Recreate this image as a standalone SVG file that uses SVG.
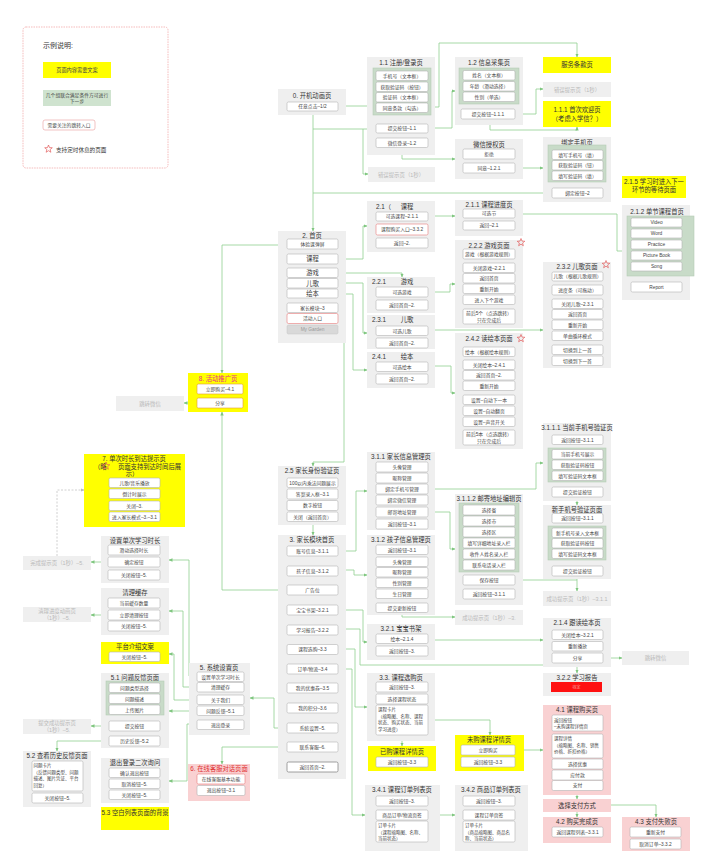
<svg xmlns="http://www.w3.org/2000/svg" width="711" height="865" viewBox="0 0 711 865">
<defs>
<style>
text{font-family:"Liberation Sans","Noto Sans CJK SC",sans-serif;}
.n{fill:#efefef}
.b{fill:#fff;stroke:#b4b4b4;stroke-width:0.6}
.g{fill:#c8dbc8;stroke:#b5ccb5;stroke-width:0.6}
.y{fill:#ffff00}
.p{fill:#f9d1d2}
.t{font-size:6.3px;fill:#333;text-anchor:middle}
.s{font-size:4.8px;fill:#444;text-anchor:middle}
.l{font-size:4.5px;fill:#444}
.gt{font-size:5.4px;fill:#b9b9b9;text-anchor:middle}
.c{fill:none;stroke:#8fcf8f;stroke-width:0.8;marker-end:url(#a)}
.c0{fill:none;stroke:#8fcf8f;stroke-width:0.8}
</style>
<marker id="a" markerWidth="4" markerHeight="4" refX="3.5" refY="2" orient="auto" markerUnits="userSpaceOnUse"><path d="M0,0.3 L4,2 L0,3.7 z" fill="#7fc67f"/></marker>
<marker id="ag" markerWidth="4" markerHeight="4" refX="3.5" refY="2" orient="auto" markerUnits="userSpaceOnUse"><path d="M0,0.3 L4,2 L0,3.7 z" fill="#bbb"/></marker>
<path id="star" d="M0,-4 L1,-1.38 L3.8,-1.24 L1.62,0.53 L2.35,3.24 L0,1.7 L-2.35,3.24 L-1.62,0.53 L-3.8,-1.24 L-1,-1.38 Z" fill="none" stroke="#e25a5a" stroke-width="0.7"/>
</defs>
<rect width="711" height="865" fill="#fff"/>

<g id="legend">
<rect x="23" y="27" width="145" height="141" rx="3" fill="#fff" stroke="#f2aaaa" stroke-width="0.8" stroke-dasharray="1.5 1"/>
<text x="43" y="48" style="font-size:7px;fill:#333">示例说明:</text>
<rect class="y" x="43" y="62" width="68" height="16"/>
<text class="s" x="77" y="72" style="font-size:5.2px">页面内容需要文案</text>
<rect x="43" y="90" width="68" height="16" fill="#cfe3cf"/>
<text class="s" x="77" y="96.5">几个组联合满足条件方可进行</text>
<text class="s" x="77" y="103">下一步</text>
<rect class="b" x="43" y="120" width="52" height="10" rx="2" style="stroke:#e89a9a"/>
<text class="s" x="69" y="126.8">需要关注的跳转入口</text>
<use href="#star" x="48.5" y="149"/>
<text x="56" y="152" style="font-size:5.6px;fill:#333">支持定时休息的页面</text>
</g>

<g id="connectors">
<polyline class="c" points="338,106 373,106"/>
<polyline class="c" points="313,111 313,231"/>
<polyline class="c0" points="313,129 376,129"/>
<polyline class="c" points="363,129 363,174 368,174"/>
<polyline class="c0" points="313,193 552,193"/>
<polyline class="c" points="428,107 439,107 439,43 577,43 577,57"/>
<polyline class="c" points="428,128 452,128 452,91 455,91"/>
<polyline class="c" points="402,148 402,159 455,159"/>
<polyline class="c" points="515,114 536,114 536,89 543,89"/>
<polyline class="c" points="490,119 490,130 577,130 577,127"/>
<polyline class="c" points="515,168 543,168"/>
<polyline class="c" points="577,182 577,188"/>
<polyline class="c" points="402,115 402,124"/>
<polyline class="c" points="287,245 222,245 222,373"/>
<polyline class="c" points="287,590 222,590 222,412"/>
<polyline class="c" points="338,259 363,259 363,226 367,226"/>
<polyline class="c" points="338,273 402,273 402,277"/>
<polyline class="c" points="338,283 363,283 363,333 367,333"/>
<polyline class="c" points="338,294 353,294 353,370 367,370"/>
<polyline class="c" points="338,308 344,308 344,462 313,462 313,466"/>
<polyline class="c" points="313,525 313,535"/>
<polyline class="c" points="428,216 455,216"/>
<polyline class="c" points="515,214 617,214 617,251 627,251"/>
<polyline class="c" points="657,276 657,282"/>
<polyline class="c" points="428,292 450,292 450,284 455,284"/>
<polyline class="c" points="428,330 543,330"/>
<polyline class="c" points="428,366 451,366 451,393 455,393"/>
<polyline class="c" points="338,551 356,551 356,491 367,491"/>
<polyline class="c" points="338,570 354,570 354,575 367,575"/>
<polyline class="c" points="338,610 363,610 363,642 367,642"/>
<polyline class="c" points="338,629 360,629 360,665 577,665 577,673"/>
<polyline class="c" points="338,649 355,649 355,707 367,707"/>
<polyline class="c" points="338,669 352,669 352,815 365,815"/>
<polyline class="c0" points="345,689 345,779"/>
<polyline class="c" points="287,728 274,728 274,698 250,698"/>
<polyline class="c" points="287,747 222,747 222,764"/>
<polyline class="c" points="197,676 189,676 189,560 169,560"/>
<polyline class="c" points="197,687 183,687 183,611 169,611"/>
<polyline class="c" points="197,700 174,700 174,654 169,654"/>
<polyline class="c" points="197,711 169,711"/>
<polyline class="c" points="197,724 187,724 187,781 169,781"/>
<polyline class="c" points="135,715 135,721"/>
<polyline class="c" points="109,726 91,726"/>
<polyline class="c" points="109,741 57,741 57,751"/>
<polyline class="c" points="108,562 91,562"/>
<polyline class="c" points="108,615 91,615"/>
<polyline points="57,556 57,490 84,490" fill="none" stroke="#c4c4c4" stroke-width="0.8" stroke-dasharray="2 1.5" marker-end="url(#ag)"/>
<polyline class="c" points="197,403 184,403"/>
<polyline class="c" points="428,489 536,489 536,463 543,463"/>
<polyline class="c" points="428,512 450,512 450,549 455,549"/>
<polyline class="c" points="402,612 402,617 455,617"/>
<polyline class="c" points="490,571 490,575"/>
<polyline class="c0" points="515,580 577,580"/>
<polyline class="c" points="577,576 577,591"/>
<polyline class="c" points="577,481 577,487"/>
<polyline class="c" points="577,497 577,505"/>
<polyline class="c" points="577,560 577,566"/>
<polyline class="c" points="428,640 543,640"/>
<polyline class="c" points="603,658 622,658"/>
<polyline class="c" points="428,720 490,720 490,735"/>
<polyline class="c" points="402,735 402,746"/>
<polyline class="c" points="515,750 543,750"/>
<polyline class="c" points="577,795 577,799"/>
<polyline class="c" points="577,812 577,817"/>
<polyline class="c" points="611,805 656,805 656,817"/>
<polyline class="c" points="428,815 455,815"/>
</g>

<g id="n0"><rect class="n" x="278" y="89" width="68" height="26"/><text class="t" x="312" y="97.5">0. 开机动画页</text>
<rect class="b" x="287" y="102" width="51" height="9" rx="1.5"/><text class="s" x="312.5" y="108.3">任意点击–1/2</text></g>

<g id="n1_1"><rect class="n" x="367" y="57" width="68" height="98"/><text class="t" x="401" y="65">1.1 注册/登录页</text>
<rect class="g" x="373" y="68" width="58" height="47"/>
<rect class="b" x="376" y="71" width="52" height="9.5" rx="1.5"/><text class="s" x="402" y="77.5">手机号（文本框）</text>
<rect class="b" x="376" y="82" width="52" height="9.5" rx="1.5"/><text class="s" x="402" y="88.5">获取验证码（按钮）</text>
<rect class="b" x="376" y="92.5" width="52" height="9.5" rx="1.5"/><text class="s" x="402" y="99">验证码（文本框）</text>
<rect class="b" x="376" y="103" width="52" height="9.5" rx="1.5"/><text class="s" x="402" y="109.5">同意条款（勾选）</text>
<rect class="b" x="376" y="124" width="52" height="9" rx="1.5"/><text class="s" x="402" y="130.3">提交按钮–1.1</text>
<rect class="b" x="376" y="138" width="52" height="9.5" rx="1.5"/><text class="s" x="402" y="144.5">微信登录–1.2</text></g>

<g id="err1"><rect class="n" x="368" y="167" width="67" height="15"/><text class="gt" x="401" y="176.5">错误提示页（1秒）</text></g>

<g id="n1_2"><rect class="n" x="455" y="57" width="68" height="68"/><text class="t" x="489" y="65">1.2 信息采集页</text>
<rect class="g" x="459" y="68" width="60" height="36"/>
<rect class="b" x="463" y="70.5" width="52" height="9.5" rx="1.5"/><text class="s" x="489" y="77">姓名（文本框）</text>
<rect class="b" x="463" y="81.5" width="52" height="9.5" rx="1.5"/><text class="s" x="489" y="88">年龄（滑动选择）</text>
<rect class="b" x="463" y="92" width="52" height="9.5" rx="1.5"/><text class="s" x="489" y="98.5">性别（单选）</text>
<rect class="b" x="461" y="109" width="54" height="10" rx="1.5"/><text class="s" x="488" y="115.8">提交按钮–1.1.1</text></g>

<g id="terms"><rect class="y" x="543" y="57" width="68" height="16"/><text class="t" x="577" y="67.2">服务条款页</text></g>
<g id="err2"><rect class="n" x="543" y="82" width="68" height="15"/><text class="gt" x="577" y="91.5">错误提示页（1秒）</text></g>
<g id="n1_1_1"><rect class="y" x="543" y="101" width="68" height="26"/><text class="t" x="577" y="112">1.1.1 首次欢迎页</text><text class="t" x="577" y="120.5">（考虑入学信？）</text></g>

<g id="wxauth"><rect class="n" x="455" y="139" width="68" height="40"/><text class="t" x="489" y="146.5">微信授权页</text>
<rect class="b" x="463" y="149" width="52" height="10" rx="1.5"/><text class="s" x="489" y="155.8">拒绝</text>
<rect class="b" x="463" y="163" width="52" height="10" rx="1.5"/><text class="s" x="489" y="169.8">同意–1.2.1</text></g>

<g id="bindphone"><rect class="n" x="543" y="137" width="68" height="65"/><text class="t" x="577" y="144.5">绑定手机页</text>
<rect class="g" x="548" y="145" width="58" height="37"/>
<rect class="b" x="552" y="150" width="51" height="9.5" rx="1.5"/><text class="s" x="577.5" y="156.5">填写手机号（填）</text>
<rect class="b" x="552" y="160.5" width="51" height="9.5" rx="1.5"/><text class="s" x="577.5" y="167">获取验证码（钮）</text>
<rect class="b" x="552" y="171" width="51" height="9.5" rx="1.5"/><text class="s" x="577.5" y="177.5">填写验证码（填）</text>
<rect class="b" x="552" y="188" width="51" height="10" rx="1.5"/><text class="s" x="577.5" y="194.8">绑定按钮–2</text></g>

<g id="n2_1_5"><rect class="y" x="622" y="176" width="64" height="22"/><text class="t" x="654" y="184">2.1.5 学习时进入下一</text><text class="t" x="654" y="192">环节的等待页面</text></g>

<g id="n2_1_2"><rect class="n" x="622" y="205" width="68" height="95"/><text class="t" x="657" y="213.5">2.1.2 单节课程首页</text>
<rect class="g" x="627" y="216" width="67" height="60"/>
<rect class="b" x="631" y="218" width="51" height="9" rx="1.5"/><text class="s" x="656.5" y="224.3">Video</text>
<rect class="b" x="631" y="229" width="51" height="9" rx="1.5"/><text class="s" x="656.5" y="235.3">Word</text>
<rect class="b" x="631" y="240" width="51" height="9" rx="1.5"/><text class="s" x="656.5" y="246.3">Practice</text>
<rect class="b" x="631" y="251" width="51" height="9" rx="1.5"/><text class="s" x="656.5" y="257.3">Picture Book</text>
<rect class="b" x="631" y="262" width="51" height="9" rx="1.5"/><text class="s" x="656.5" y="268.3">Song</text>
<rect class="b" x="631" y="282" width="51" height="10" rx="1.5"/><text class="s" x="656.5" y="288.8">Report</text></g>

<g id="n2"><rect class="n" x="278" y="231" width="68" height="112"/><text class="t" x="312" y="237.5">2. 首页</text>
<rect class="b" x="287" y="239" width="51" height="10" rx="1.5"/><text class="s" x="312.5" y="245.8">体验课弹屏</text>
<rect class="b" x="287" y="254" width="51" height="10" rx="1.5"/><text class="t" x="312.5" y="261.3">课程</text>
<rect class="b" x="287" y="268" width="51" height="9.5" rx="1.5"/><text class="t" x="312.5" y="275">游戏</text>
<rect class="b" x="287" y="278.5" width="51" height="9.5" rx="1.5"/><text class="t" x="312.5" y="285.5">儿歌</text>
<rect class="b" x="287" y="289" width="51" height="9" rx="1.5"/><text class="t" x="312.5" y="295.8">绘本</text>
<rect class="b" x="287" y="303" width="51" height="9.5" rx="1.5"/><text class="s" x="312.5" y="309.5">家长模块–3</text>
<rect class="b" x="287" y="313.5" width="51" height="10" rx="1.5" style="stroke:#e77a7a"/><text class="s" x="312.5" y="320.3">活动入口</text>
<rect x="287" y="325" width="51" height="9" rx="1.5" fill="#d9d9d9" stroke="#c4c4c4" stroke-width="0.5"/><text class="s" x="312.5" y="331.3" style="fill:#999">My Garden</text></g>

<g id="n2_1"><rect class="n" x="367" y="201" width="68" height="51"/><text x="376" y="208.5" style="font-size:6.3px;fill:#333">2.1（</text><text class="t" x="407" y="208.5">课程</text>
<rect class="b" x="376" y="212" width="52" height="9" rx="1.5"/><text class="s" x="402" y="218.3">可选课程–2.1.1</text>
<rect class="b" x="376" y="224" width="52" height="11" rx="1.5" style="stroke:#e77a7a"/><text class="s" x="402" y="231.3">课程购买入口–3.3.2</text>
<rect class="b" x="376" y="238" width="52" height="10" rx="1.5"/><text class="s" x="402" y="244.8">返回–2.</text></g>

<g id="n2_1_1"><rect class="n" x="455" y="200" width="68" height="36"/><text class="t" x="489" y="206.5">2.1.1 课程进度页</text>
<rect class="b" x="463" y="209" width="52" height="9" rx="1.5"/><text class="s" x="489" y="215.3">可选节</text>
<rect class="b" x="463" y="221" width="52" height="9" rx="1.5"/><text class="s" x="489" y="227.3">返回–2.1</text></g>

<g id="n2_2_2"><rect class="n" x="455" y="240" width="68" height="88"/><text class="t" x="489" y="247.5">2.2.2 游戏页面</text><use href="#star" x="521" y="242.5"/>
<rect class="b" x="463" y="249" width="52" height="10" rx="1.5"/><text class="s" x="489" y="255.8">游戏（根据游戏规则）</text>
<rect class="b" x="463" y="263" width="52" height="9.5" rx="1.5"/><text class="s" x="489" y="269.5">关闭游戏–2.2.1</text>
<rect class="b" x="463" y="273.5" width="52" height="9.5" rx="1.5"/><text class="s" x="489" y="280">返回首页</text>
<rect class="b" x="463" y="284" width="52" height="9.5" rx="1.5"/><text class="s" x="489" y="290.5">重新开始</text>
<rect class="b" x="463" y="295" width="52" height="9.5" rx="1.5"/><text class="s" x="489" y="301.5">进入下个游戏</text>
<rect class="b" x="463" y="309" width="52" height="15" rx="1.5"/><text class="s" x="489" y="315">前后5个（点选跳转）</text><text class="s" x="489" y="321.5">只在完成后</text></g>

<g id="n2_2_1"><rect class="n" x="367" y="277" width="68" height="36"/><text x="372" y="284" style="font-size:6.3px;fill:#333">2.2.1</text><text class="t" x="407" y="284">游戏</text>
<rect class="b" x="376" y="287" width="52" height="10" rx="1.5"/><text class="s" x="402" y="293.8">可选游戏</text>
<rect class="b" x="376" y="300" width="52" height="10" rx="1.5"/><text class="s" x="402" y="306.8">返回首页–2.</text></g>

<g id="n2_3_1"><rect class="n" x="367" y="315" width="68" height="34"/><text x="372" y="321.5" style="font-size:6.3px;fill:#333">2.3.1</text><text class="t" x="407" y="321.5">儿歌</text>
<rect class="b" x="376" y="326" width="52" height="9.5" rx="1.5"/><text class="s" x="402" y="332.5">可选儿歌</text>
<rect class="b" x="376" y="338" width="52" height="10" rx="1.5"/><text class="s" x="402" y="344.8">返回首页–2.</text></g>

<g id="n2_4_1"><rect class="n" x="367" y="352" width="68" height="36"/><text x="372" y="359" style="font-size:6.3px;fill:#333">2.4.1</text><text class="t" x="407" y="359">绘本</text>
<rect class="b" x="376" y="362" width="52" height="9.5" rx="1.5"/><text class="s" x="402" y="368.5">可选绘本</text>
<rect class="b" x="376" y="374" width="52" height="10" rx="1.5"/><text class="s" x="402" y="380.8">返回首页–2.</text></g>

<g id="n2_3_2"><rect class="n" x="543" y="262" width="68" height="106"/><text class="t" x="577" y="268.8">2.3.2 儿歌页面</text><use href="#star" x="606" y="264.5"/>
<rect class="b" x="552" y="272" width="51" height="9" rx="1.5"/><text class="s" x="577.5" y="278.3">儿歌（根据儿歌规则）</text>
<rect class="b" x="552" y="285" width="51" height="10" rx="1.5"/><text class="s" x="577.5" y="291.8">进度条（可拖动）</text>
<rect class="b" x="552" y="299" width="51" height="9.5" rx="1.5"/><text class="s" x="577.5" y="305.5">关闭儿歌–2.3.1</text>
<rect class="b" x="552" y="309.5" width="51" height="9.5" rx="1.5"/><text class="s" x="577.5" y="316">返回首页</text>
<rect class="b" x="552" y="320" width="51" height="9.5" rx="1.5"/><text class="s" x="577.5" y="326.5">重新开始</text>
<rect class="b" x="552" y="331" width="51" height="9.5" rx="1.5"/><text class="s" x="577.5" y="337.5">单曲循环模式</text>
<rect class="b" x="552" y="345" width="51" height="9.5" rx="1.5"/><text class="s" x="577.5" y="351.5">切换到上一首</text>
<rect class="b" x="552" y="356" width="51" height="9.5" rx="1.5"/><text class="s" x="577.5" y="362.5">切换到下一首</text></g>

<g id="n2_4_2"><rect class="n" x="455" y="333" width="68" height="116"/><text class="t" x="489" y="341">2.4.2 读绘本页面</text><use href="#star" x="521" y="338.5"/>
<rect class="b" x="463" y="347" width="52" height="9.5" rx="1.5"/><text class="s" x="489" y="353.5">绘本（根据绘本规则）</text>
<rect class="b" x="463" y="360" width="52" height="9.5" rx="1.5"/><text class="s" x="489" y="366.5">关闭绘本–2.4.1</text>
<rect class="b" x="463" y="370.5" width="52" height="9.5" rx="1.5"/><text class="s" x="489" y="377">返回首页–2.</text>
<rect class="b" x="463" y="381" width="52" height="9.5" rx="1.5"/><text class="s" x="489" y="387.5">重新开始</text>
<rect class="b" x="463" y="395" width="52" height="9.5" rx="1.5"/><text class="s" x="489" y="401.5">设置–自动下一本</text>
<rect class="b" x="463" y="406" width="52" height="9.5" rx="1.5"/><text class="s" x="489" y="412.5">设置–自动翻页</text>
<rect class="b" x="463" y="417" width="52" height="9.5" rx="1.5"/><text class="s" x="489" y="423.5">设置–声音开关</text>
<rect class="b" x="463" y="430" width="52" height="15" rx="1.5"/><text class="s" x="489" y="436">前后5本（点选跳转）</text><text class="s" x="489" y="442.5">只在完成后</text></g>

<g id="n8"><rect class="y" x="188" y="373" width="60" height="39"/><text class="t" x="218" y="380.8" style="fill:#e8308c">8. 活动推广页</text>
<rect class="b" x="197" y="384" width="46" height="10" rx="1.5" style="stroke:#e09a3a"/><text class="s" x="220" y="390.8">立即购买–4.1</text>
<rect class="b" x="197" y="398" width="46" height="10" rx="1.5" style="stroke:#e09a3a"/><text class="s" x="220" y="404.8">分享</text></g>
<g id="wx1"><rect class="n" x="116" y="396" width="68" height="15"/><text class="gt" x="150" y="405.5">跳转微信</text></g>

<g id="n2_5"><rect class="n" x="278" y="466" width="68" height="59"/><text class="t" x="312" y="473">2.5 家长身份验证页</text>
<rect class="b" x="287" y="478" width="51" height="9.5" rx="1.5"/><text class="s" x="312.5" y="484.5">100以内乘法问题展示</text>
<rect class="b" x="287" y="489" width="51" height="10" rx="1.5"/><text class="s" x="312.5" y="495.8">答案录入框–3.1</text>
<rect class="b" x="287" y="500.5" width="51" height="10" rx="1.5"/><text class="s" x="312.5" y="507.3">数字按钮</text>
<rect class="b" x="287" y="512" width="51" height="9.5" rx="1.5"/><text class="s" x="312.5" y="518.5">关闭（返回首页）</text></g>

<g id="n3"><rect class="n" x="278" y="535" width="68" height="244"/><text class="t" x="312" y="542">3. 家长模块首页</text>
<rect class="b" x="287" y="546" width="51" height="10" rx="1.5"/><text class="s" x="312.5" y="552.8">账号信息–3.1.1</text>
<rect class="b" x="287" y="566" width="51" height="10" rx="1.5"/><text class="s" x="312.5" y="572.8">孩子信息–3.1.2</text>
<rect class="b" x="287" y="585" width="51" height="10" rx="1.5"/><text class="s" x="312.5" y="591.8">广告位</text>
<rect class="b" x="287" y="605" width="51" height="10" rx="1.5"/><text class="s" x="312.5" y="611.8">宝宝书架–3.2.1</text>
<rect class="b" x="287" y="625" width="51" height="10" rx="1.5"/><text class="s" x="312.5" y="631.8">学习报告–3.2.2</text>
<rect class="b" x="287" y="644.5" width="51" height="10" rx="1.5"/><text class="s" x="312.5" y="651.3">课程选购–3.3</text>
<rect class="b" x="287" y="664" width="51" height="10" rx="1.5"/><text class="s" x="312.5" y="670.8">订单/物流–3.4</text>
<rect class="b" x="287" y="683" width="51" height="10" rx="1.5"/><text class="s" x="312.5" y="689.8">我的优惠券–3.5</text>
<rect class="b" x="287" y="703" width="51" height="10" rx="1.5"/><text class="s" x="312.5" y="709.8">我的积分–3.6</text>
<rect class="b" x="287" y="723" width="51" height="10" rx="1.5"/><text class="s" x="312.5" y="729.8">系统设置–5.</text>
<rect class="b" x="287" y="742" width="51" height="10" rx="1.5"/><text class="s" x="312.5" y="748.8">联系客服–6.</text>
<rect class="b" x="287" y="762" width="51" height="10" rx="1.5" style="stroke:#888;stroke-width:0.8"/><text class="s" x="312.5" y="768.8">返回首页–2.</text></g>

<g id="n3_1_1"><rect class="n" x="367" y="452" width="68" height="78"/><text class="t" x="401" y="458.5">3.1.1 家长信息管理页</text>
<rect class="b" x="376" y="462" width="52" height="10" rx="1.5"/><text class="s" x="402" y="468.8">头像管理</text>
<rect class="b" x="376" y="473" width="52" height="10" rx="1.5"/><text class="s" x="402" y="479.8">昵称管理</text>
<rect class="b" x="376" y="484" width="52" height="10" rx="1.5"/><text class="s" x="402" y="490.8">绑定手机号管理</text>
<rect class="b" x="376" y="495" width="52" height="10" rx="1.5"/><text class="s" x="402" y="501.8">绑定微信管理</text>
<rect class="b" x="376" y="507" width="52" height="10" rx="1.5"/><text class="s" x="402" y="513.8">邮寄地址管理</text>
<rect class="b" x="376" y="519" width="52" height="10" rx="1.5"/><text class="s" x="402" y="525.8">返回按钮–3.1</text></g>

<g id="n3_1_2"><rect class="n" x="367" y="535" width="68" height="80"/><text class="t" x="401" y="542">3.1.2 孩子信息管理页</text>
<rect class="b" x="376" y="545" width="52" height="9.5" rx="1.5"/><text class="s" x="402" y="551.5">返回按钮–3.1</text>
<rect class="b" x="376" y="557" width="52" height="9.5" rx="1.5"/><text class="s" x="402" y="563.5">头像管理</text>
<rect class="b" x="376" y="567.5" width="52" height="9.5" rx="1.5"/><text class="s" x="402" y="574">昵称管理</text>
<rect class="b" x="376" y="578" width="52" height="9.5" rx="1.5"/><text class="s" x="402" y="584.5">性别管理</text>
<rect class="b" x="376" y="589" width="52" height="9.5" rx="1.5"/><text class="s" x="402" y="595.5">生日管理</text>
<rect class="b" x="376" y="603" width="52" height="9.5" rx="1.5"/><text class="s" x="402" y="609.5">提交更新按钮</text></g>

<g id="ok3"><rect class="n" x="455" y="610" width="68" height="15"/><text class="gt" x="489" y="619.5">成功提示页（1秒）–3.</text></g>

<g id="n3_1_1_2"><rect class="n" x="455" y="494" width="68" height="111"/><text class="t" x="489" y="501">3.1.1.2 邮寄地址编辑页</text>
<rect class="g" x="459" y="503" width="60" height="69"/>
<rect class="b" x="463" y="505" width="52" height="10" rx="1.5"/><text class="s" x="489" y="511.8">选择省</text>
<rect class="b" x="463" y="516" width="52" height="10" rx="1.5"/><text class="s" x="489" y="522.8">选择市</text>
<rect class="b" x="463" y="527" width="52" height="10" rx="1.5"/><text class="s" x="489" y="533.8">选择区</text>
<rect class="b" x="463" y="538" width="52" height="10" rx="1.5"/><text class="s" x="489" y="544.8">填写详细地址录入栏</text>
<rect class="b" x="463" y="549" width="52" height="10" rx="1.5"/><text class="s" x="489" y="555.8">收件人姓名录入栏</text>
<rect class="b" x="463" y="560" width="52" height="10" rx="1.5"/><text class="s" x="489" y="566.8">联系电话录入栏</text>
<rect class="b" x="463" y="575" width="52" height="10" rx="1.5"/><text class="s" x="489" y="581.8">保存按钮</text>
<rect class="b" x="463" y="589" width="52" height="10" rx="1.5"/><text class="s" x="489" y="595.8">返回按钮–3.1.1</text></g>

<g id="n3_1_1_1"><rect class="n" x="543" y="423" width="68" height="78"/><text class="t" x="577" y="430">3.1.1.1 当前手机号验证页</text>
<rect class="b" x="552" y="435" width="51" height="9.5" rx="1.5"/><text class="s" x="577.5" y="441.5">返回按钮–3.1.1</text>
<rect class="g" x="548" y="448" width="58" height="34"/>
<rect class="b" x="552" y="449.5" width="51" height="9.5" rx="1.5"/><text class="s" x="577.5" y="456">当前手机号展示</text>
<rect class="b" x="552" y="460" width="51" height="9.5" rx="1.5"/><text class="s" x="577.5" y="466.5">获取验证码按钮</text>
<rect class="b" x="552" y="471" width="51" height="9.5" rx="1.5"/><text class="s" x="577.5" y="477.5">填写验证码文本框</text>
<rect class="b" x="552" y="487" width="51" height="10" rx="1.5"/><text class="s" x="577.5" y="493.8">提交验证按钮</text></g>

<g id="newphone"><rect class="n" x="543" y="505" width="68" height="74"/><text class="t" x="577" y="512">新手机号验证页面</text>
<rect class="b" x="552" y="513.5" width="51" height="9.5" rx="1.5"/><text class="s" x="577.5" y="520">返回按钮–3.1.1</text>
<rect class="g" x="548" y="526" width="58" height="34"/>
<rect class="b" x="552" y="528" width="51" height="9.5" rx="1.5"/><text class="s" x="577.5" y="534.5">新手机号录入文本框</text>
<rect class="b" x="552" y="538.5" width="51" height="9.5" rx="1.5"/><text class="s" x="577.5" y="545">获取验证码按钮</text>
<rect class="b" x="552" y="549" width="51" height="9.5" rx="1.5"/><text class="s" x="577.5" y="555.5">填写验证码文本框</text>
<rect class="b" x="552" y="566" width="51" height="10" rx="1.5"/><text class="s" x="577.5" y="572.8">提交验证按钮</text></g>

<g id="ok311"><rect class="n" x="543" y="591" width="68" height="15"/><text class="gt" x="577" y="600.5">成功提示页（1秒）–3.1.1</text></g>

<g id="n3_2_1"><rect class="n" x="367" y="624" width="68" height="36"/><text class="t" x="401" y="630.8">3.2.1 宝宝书架</text>
<rect class="b" x="376" y="634" width="52" height="9.5" rx="1.5"/><text class="s" x="402" y="640.5">绘本–2.1.4</text>
<rect class="b" x="376" y="646" width="52" height="10" rx="1.5"/><text class="s" x="402" y="652.8">返回按钮–3.</text></g>

<g id="n2_1_4"><rect class="n" x="543" y="618" width="68" height="49"/><text class="t" x="577" y="625">2.1.4 跟读绘本页</text>
<rect class="b" x="552" y="630" width="51" height="9.5" rx="1.5"/><text class="s" x="577.5" y="636.5">关闭绘本–3.2.1</text>
<rect class="b" x="552" y="641.5" width="51" height="9.5" rx="1.5"/><text class="s" x="577.5" y="648">重新播放</text>
<rect class="b" x="552" y="653" width="51" height="10" rx="1.5"/><text class="s" x="577.5" y="659.8">分享</text></g>
<g id="wx2"><rect class="n" x="622" y="651" width="67" height="14"/><text class="gt" x="655.5" y="660">跳转微信</text></g>

<g id="n3_2_2"><rect class="n" x="543" y="673" width="68" height="23"/><text class="t" x="577" y="679.8">3.2.2 学习报告</text>
<rect x="551" y="682" width="51" height="10" fill="#ff1010"/><text class="s" x="576.5" y="688.8" style="fill:#f6b0b0;font-size:4px">待定</text></g>

<g id="n4_1"><rect class="p" x="543" y="705" width="68" height="90"/><text class="t" x="577" y="712">4.1 课程购买页</text>
<rect class="b" x="552" y="715" width="51" height="16" rx="1.5"/><text class="l" x="554" y="721.5">返回按钮</text><text class="l" x="554" y="728.3">–未购课程详情页</text>
<rect class="b" x="552" y="734" width="51" height="24" rx="1.5"/><text class="l" x="554" y="740">课程详情</text><text class="l" x="554" y="746.5">（缩略图、名称、销售</text><text class="l" x="554" y="753">价格、折扣价格）</text>
<rect class="b" x="552" y="759" width="51" height="10" rx="1.5"/><text class="s" x="577.5" y="765.8">选择优惠</text>
<rect class="b" x="552" y="770" width="51" height="10" rx="1.5"/><text class="s" x="577.5" y="776.8">应付款</text>
<rect class="b" x="552" y="780.5" width="51" height="10" rx="1.5"/><text class="s" x="577.5" y="787.3">支付</text></g>

<g id="paymethod"><rect class="p" x="543" y="799" width="68" height="13"/><text class="t" x="577" y="807.8">选择支付方式</text></g>

<g id="n4_2"><rect class="p" x="543" y="817" width="68" height="26"/><text class="t" x="577" y="823.8">4.2 购买完成页</text>
<rect class="b" x="552" y="827" width="51" height="10" rx="1.5"/><text class="s" x="577.5" y="833.8">返回课程列表–3.3.1</text></g>

<g id="n4_3"><rect class="p" x="622" y="817" width="68" height="34"/><text class="t" x="656" y="823.8">4.3 支付失败页</text>
<rect class="b" x="630" y="827" width="51" height="10" rx="1.5"/><text class="s" x="655.5" y="833.8">重新支付</text>
<rect class="b" x="630" y="839" width="51" height="10" rx="1.5"/><text class="s" x="655.5" y="845.8">取消订单–3.3.2</text></g>

<g id="n3_3"><rect class="n" x="367" y="673" width="68" height="68"/><text class="t" x="401" y="679.8">3.3. 课程选购页</text>
<rect class="b" x="376" y="682" width="52" height="10" rx="1.5"/><text class="s" x="402" y="688.8">返回按钮–3.</text>
<rect class="b" x="376" y="694" width="52" height="10" rx="1.5"/><text class="s" x="402" y="700.8">选择课程状态</text>
<rect class="b" x="376" y="705" width="52" height="30" rx="1.5"/><text class="l" x="378" y="711">课程卡片</text><text class="l" x="378" y="717.5">（缩略图、名称、课程</text><text class="l" x="378" y="724">状态、购买状态、当前</text><text class="l" x="378" y="730.5">学习进度）</text></g>

<g id="bought"><rect class="y" x="368" y="746" width="68" height="25"/><text class="t" x="402" y="753.5">已购课程详情页</text>
<rect class="b" x="376" y="757" width="52" height="10" rx="1.5"/><text class="s" x="402" y="763.8">返回按钮–3.3</text></g>

<g id="notbought"><rect class="y" x="455" y="735" width="69" height="36"/><text class="t" x="489" y="742">未购课程详情页</text>
<rect class="b" x="461" y="745" width="54" height="10" rx="1.5"/><text class="s" x="488" y="751.8">立即购买</text>
<rect class="b" x="461" y="757" width="54" height="10" rx="1.5"/><text class="s" x="488" y="763.8">返回按钮–3.3</text></g>

<g id="n3_4_1"><rect class="n" x="365" y="785" width="75" height="66"/><text class="t" x="402" y="792">3.4.1 课程订单列表页</text>
<rect class="b" x="376" y="796" width="52" height="10" rx="1.5"/><text class="s" x="402" y="802.8">返回按钮–3.</text>
<rect class="b" x="376" y="810" width="52" height="10" rx="1.5"/><text class="s" x="402" y="816.8">商品订单/物流页签</text>
<rect class="b" x="376" y="821" width="52" height="21" rx="1.5"/><text class="l" x="378" y="827">订单卡片</text><text class="l" x="378" y="833.5">（课程缩略图、名称、</text><text class="l" x="378" y="840">当前状态）</text></g>

<g id="n3_4_2"><rect class="n" x="455" y="785" width="73" height="66"/><text class="t" x="491" y="792">3.4.2 商品订单列表页</text>
<rect class="b" x="463" y="796" width="52" height="10" rx="1.5"/><text class="s" x="489" y="802.8">返回按钮–3.</text>
<rect class="b" x="463" y="810" width="52" height="10" rx="1.5"/><text class="s" x="489" y="816.8">课程订单页签</text>
<rect class="b" x="463" y="821" width="52" height="21" rx="1.5"/><text class="l" x="465" y="827">订单卡片</text><text class="l" x="465" y="833.5">（商品缩略图、商品名</text><text class="l" x="465" y="840">称、当前状态）</text></g>

<g id="n7"><rect class="y" x="84" y="454" width="101" height="73"/><text class="t" x="134" y="460.8">7. 单次时长到达提示页</text>
<text x="94" y="468.5" style="font-size:6.3px;fill:#333">（略</text><use href="#star" x="106" y="466"/><text x="118" y="468.5" style="font-size:6.3px;fill:#333">页面支持到达时间后展</text>
<text class="t" x="132" y="475.5">示）</text>
<rect class="b" x="109" y="478" width="51" height="9.5" rx="1.5"/><text class="s" x="134.5" y="484.5">儿歌/音乐播放</text>
<rect class="b" x="109" y="489" width="51" height="9.5" rx="1.5"/><text class="s" x="134.5" y="495.5">倒计时展示</text>
<rect class="b" x="109" y="501" width="51" height="9.5" rx="1.5"/><text class="s" x="134.5" y="507.5">关闭–3.</text>
<rect class="b" x="109" y="512" width="51" height="9.5" rx="1.5"/><text class="s" x="134.5" y="518.5">进入家长模式–3.–3.1</text></g>

<g id="setlen"><rect class="n" x="101" y="536" width="68" height="47"/><text class="t" x="135" y="542.5">设置单次学习时长</text>
<rect class="b" x="108" y="545" width="52" height="10" rx="1.5"/><text class="s" x="134" y="551.8">滑动选择时长</text>
<rect class="b" x="108" y="557" width="52" height="10" rx="1.5"/><text class="s" x="134" y="563.8">确定按钮</text>
<rect class="b" x="108" y="570" width="52" height="10" rx="1.5"/><text class="s" x="134" y="576.8">关闭按钮–5.</text></g>
<g id="done1"><rect class="n" x="23" y="556" width="68" height="14"/><text class="gt" x="57" y="565">完成提示页（1秒）–5.</text></g>

<g id="cache"><rect class="n" x="101" y="588" width="68" height="47"/><text class="t" x="135" y="594.5">清理缓存</text>
<rect class="b" x="108" y="598" width="52" height="10" rx="1.5"/><text class="s" x="134" y="604.8">当前缓存数量</text>
<rect class="b" x="108" y="610" width="52" height="10" rx="1.5"/><text class="s" x="134" y="616.8">立即清理按钮</text>
<rect class="b" x="108" y="621" width="52" height="10" rx="1.5"/><text class="s" x="134" y="627.8">关闭按钮–5.</text></g>
<g id="cleananim"><rect class="n" x="23" y="607" width="68" height="15"/><text class="gt" x="57" y="612.8">清理进度动画页</text><text class="gt" x="57" y="620">（1秒）–5.</text></g>

<g id="intro"><rect class="y" x="101" y="642" width="68" height="22"/><text class="t" x="135" y="648.8">平台介绍文案</text>
<rect class="b" x="109" y="652" width="51" height="9.5" rx="1.5"/><text class="s" x="134.5" y="658.5">关闭按钮–5.</text></g>

<g id="n5_1"><rect class="n" x="101" y="673" width="68" height="75"/><text class="t" x="135" y="679.8">5.1 问题反馈页面</text>
<rect class="g" x="106" y="681" width="58" height="34"/>
<rect class="b" x="109" y="683" width="51" height="9.5" rx="1.5"/><text class="s" x="134.5" y="689.5">问题类型选择</text>
<rect class="b" x="109" y="694" width="51" height="9.5" rx="1.5"/><text class="s" x="134.5" y="700.5">问题描述</text>
<rect class="b" x="109" y="705" width="51" height="9.5" rx="1.5"/><text class="s" x="134.5" y="711.5">上传图片</text>
<rect class="b" x="109" y="721" width="51" height="10" rx="1.5"/><text class="s" x="134.5" y="727.8">提交按钮</text>
<rect class="b" x="109" y="736" width="51" height="10" rx="1.5"/><text class="s" x="134.5" y="742.8">历史反馈–5.2</text></g>
<g id="submitok"><rect class="n" x="23" y="719" width="68" height="15"/><text class="gt" x="57" y="725">提交成功提示页</text><text class="gt" x="57" y="732">（1秒）–5.</text></g>

<g id="n5_2"><rect class="n" x="23" y="751" width="68" height="56"/><text class="t" x="57" y="758">5.2 查看历史反馈页面</text>
<rect class="b" x="32" y="761" width="51" height="30" rx="1.5"/><text class="l" x="33.5" y="767">问题卡片</text><text class="l" x="33.5" y="773.5">（反馈问题类型、问题</text><text class="l" x="33.5" y="780">描述、图片凭证、平台</text><text class="l" x="33.5" y="786.5">回复）</text>
<rect class="b" x="32" y="793" width="51" height="10" rx="1.5"/><text class="s" x="57.5" y="799.8">关闭按钮–5.</text></g>

<g id="logout"><rect class="n" x="101" y="758" width="68" height="45"/><text class="t" x="135" y="765">退出登录二次询问</text>
<rect class="b" x="109" y="768" width="51" height="9.5" rx="1.5"/><text class="s" x="134.5" y="774.5">确认退出按钮</text>
<rect class="b" x="109" y="779" width="51" height="9.5" rx="1.5"/><text class="s" x="134.5" y="785.5">取消按钮–5.</text>
<rect class="b" x="109" y="790" width="51" height="9.5" rx="1.5"/><text class="s" x="134.5" y="796.5">关闭按钮–5.</text></g>

<g id="n5_3"><rect class="y" x="101" y="807" width="68" height="23"/><text class="t" x="135" y="815">5.3 空白列表页面的背景</text></g>

<g id="n5"><rect class="n" x="189" y="663" width="61" height="72"/><text class="t" x="219" y="669.5">5. 系统设置页</text>
<rect class="b" x="197" y="672" width="47" height="9.5" rx="1.5"/><text class="s" x="220.5" y="678.5">设置单次学习时长</text>
<rect class="b" x="197" y="682.5" width="47" height="9.5" rx="1.5"/><text class="s" x="220.5" y="689">清理缓存</text>
<rect class="b" x="197" y="695" width="47" height="9.5" rx="1.5"/><text class="s" x="220.5" y="701.5">关于我们</text>
<rect class="b" x="197" y="706" width="47" height="9.5" rx="1.5"/><text class="s" x="220.5" y="712.5">问题反馈–5.1</text>
<rect class="b" x="197" y="720" width="47" height="9.5" rx="1.5"/><text class="s" x="220.5" y="726.5">退出登录</text></g>

<g id="n6"><rect class="p" x="188" y="764" width="62" height="37"/><text class="t" x="219" y="770.8" style="fill:#e03030">6. 在线客服对话页面</text>
<rect class="b" x="197" y="774" width="48" height="10" rx="1.5" style="stroke:#e77a7a"/><text class="s" x="221" y="780.8">在线客服基本功能</text>
<rect class="b" x="197" y="785.5" width="48" height="10" rx="1.5"/><text class="s" x="221" y="792.3">退出按钮–3.1</text></g>
</svg>
